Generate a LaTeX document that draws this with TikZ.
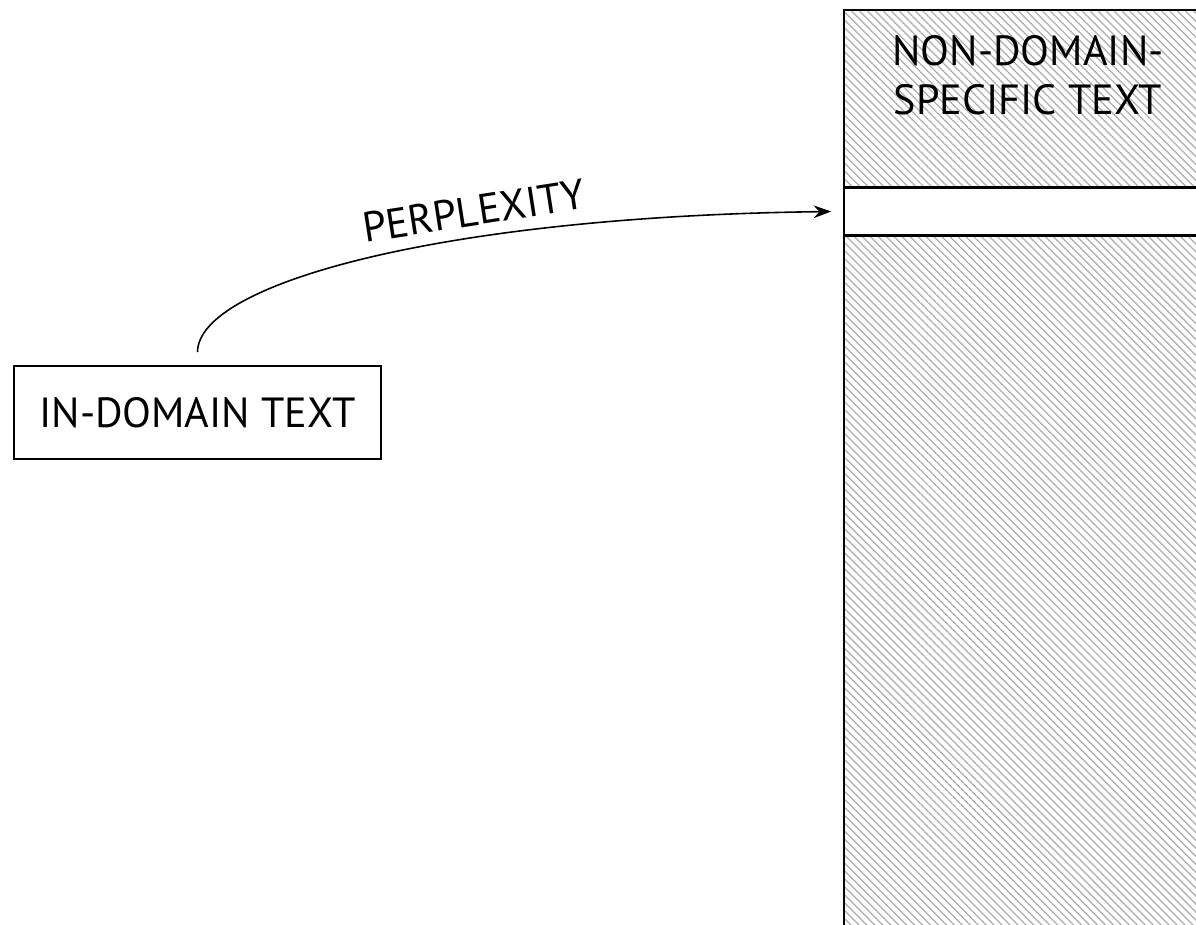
\documentclass[tikz,border=0pt]{standalone}
\usepackage{fontspec}
\setmainfont{PT Sans}
\usetikzlibrary{positioning,patterns.meta,arrows.meta}

\tikzset{
  labeltext/.style={font=\fontsize{12}{14.2}\selectfont, inner sep=0pt},
  textbox/.style={draw, line width=0.45pt, minimum width=3.67cm, minimum height=0.93cm,
    font=\fontsize{12}{14.2}\selectfont},
  hatched/.style={draw, line width=0.45pt, minimum width=3.68cm, inner sep=0pt,
    pattern={Lines[angle=-45,distance=1.6pt,line width=0.35pt]}, pattern color=black!32},
  slot/.style={draw, line width=0.45pt, minimum width=3.68cm, inner sep=0pt, fill=white},
}

\begin{document}
\begin{tikzpicture}
  \useasboundingbox (0,0) rectangle (11.96,9.25);
  \clip (0,0) rectangle (11.96,9.25);
  \fill[white] (0,0) rectangle (11.96,9.25);

  % column of text sources
  \node[hatched, minimum height=1.77cm] (upper) at (10.28,8.265) {};
  \node[slot, minimum height=0.46cm, below=0pt of upper] (strip) {};
  \node[hatched, minimum height=7.5cm, below=0pt of strip] (lower) {};
  \node[labeltext, align=center, below=0.25cm of upper.north] (nondomain) {NON-DOMAIN-\\SPECIFIC TEXT};

  \node[textbox] (indomain) at (1.975,5.125) {IN-DOMAIN TEXT};

  \draw[line width=0.45pt, -{Stealth[length=5pt,width=3.6pt]}, shorten <=0.13cm, shorten >=0.12cm]
    (indomain.north) .. controls +(0,0.81) and +(-4.04,-0.05) .. (strip.west)
    node[labeltext, pos=0.645, sloped, above=0.12cm] (perplexity) {PERPLEXITY};
\end{tikzpicture}
\end{document}
